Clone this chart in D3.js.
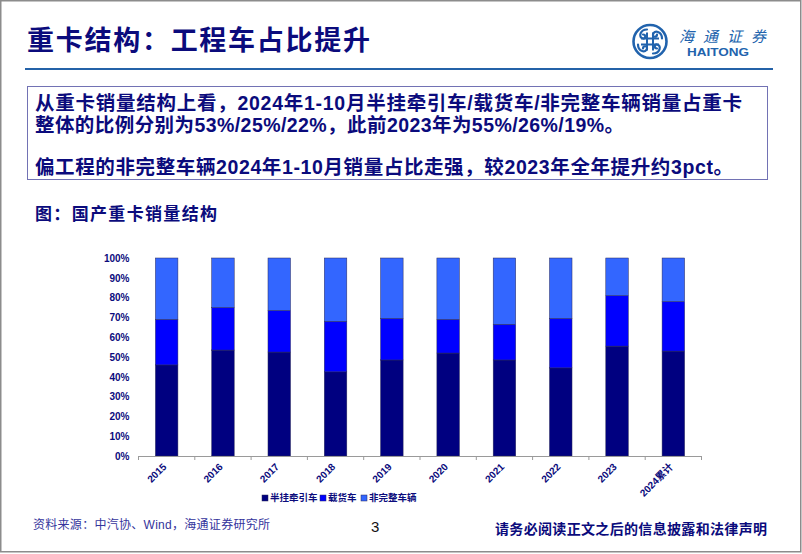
<!DOCTYPE html>
<html>
<head>
<meta charset="utf-8">
<script src="https://cdn.jsdelivr.net/npm/d3@7"></script>
<style>
  body { margin: 0; background: #fff; }
  svg { display: block; }
</style>
</head>
<body>
<div id="chart"></div>
<script>
// categories and shares (%)
const years = ['2015', '2016', '2017', '2018', '2019', '2020', '2021', '2022', '2023', '2024累计'];
const tractor = [46, 53.5, 52.5, 42.5, 48.5, 52, 48.5, 44.5, 55.5, 53];
const truck = [23, 21.5, 21, 25.5, 21, 17, 18, 25, 25.5, 25];
const incomplete = [31, 25, 26.5, 32, 30.5, 31, 33.5, 30.5, 19, 22];
const seriesNames = ['半挂牵引车', '载货车', '非完整车辆'];
const yTicks = [0, 10, 20, 30, 40, 50, 60, 70, 80, 90, 100];

const width = 802,
  height = 554,
  navy = '#0b0b7c',
  colors = ['#000080', '#0000ff', '#3366ff'],
  cjk = "'Liberation Sans', Arial, 'Noto Sans CJK SC', sans-serif",
  narrow = "'Liberation Sans Narrow', 'Arial Narrow', 'Liberation Sans', 'Noto Sans CJK SC', sans-serif",
  plot = { left: 138.5, right: 701.5, top: 258, bottom: 456 };

const svg = d3.select('#chart')
  .append('svg')
  .attr('width', width)
  .attr('height', height);

// page frame
svg.append('rect')
  .attr('x', 0.75).attr('y', 0.75)
  .attr('width', 800).attr('height', 551)
  .attr('fill', 'none')
  .attr('stroke', '#8c8c8c')
  .attr('stroke-width', 1.5);

// header
svg.append('text')
  .attr('x', 27).attr('y', 50)
  .attr('font-family', "'Noto Sans CJK SC', sans-serif")
  .attr('font-weight', 700)
  .attr('font-size', 27)
  .attr('fill', navy)
  .attr('textLength', 343)
  .attr('lengthAdjust', 'spacing')
  .text('重卡结构：工程车占比提升');

svg.append('line')
  .attr('x1', 25).attr('x2', 773)
  .attr('y1', 69).attr('y2', 69)
  .attr('stroke', '#2462a8')
  .attr('stroke-width', 2);

// logo
const logo = svg.append('g').attr('transform', 'translate(650,41.5)');
const logoBlue = '#2163ad';
logo.append('circle').attr('r', 16.5)
  .attr('fill', 'none').attr('stroke', logoBlue).attr('stroke-width', 2.6);
[0, 90, 180, 270].forEach(a => {
  logo.append('path')
    .attr('transform', `rotate(${a})`)
    .attr('d', 'M-3,-12 C-10,-12 -12,-4 -7,-3 C-4,-2.5 -4,-7 -7,-7')
    .attr('fill', 'none').attr('stroke', logoBlue).attr('stroke-width', 2.2)
    .attr('stroke-linecap', 'round');
});
logo.append('path')
  .attr('d', 'M-3,-9 V9 M3,-9 V9 M-9,-3 H9 M-9,3 H9')
  .attr('stroke', logoBlue).attr('stroke-width', 2);
svg.append('text')
  .attr('x', 679).attr('y', 42)
  .attr('font-family', "'Noto Sans CJK SC', sans-serif")
  .attr('font-size', 15)
  .attr('font-style', 'italic')
  .attr('fill', logoBlue)
  .attr('textLength', 87)
  .attr('lengthAdjust', 'spacing')
  .text('海通证券');
svg.append('text')
  .attr('x', 687).attr('y', 56)
  .attr('font-family', "'Liberation Sans', Arial, sans-serif")
  .attr('font-weight', 700)
  .attr('font-size', 10.5)
  .attr('fill', logoBlue)
  .attr('textLength', 62)
  .attr('lengthAdjust', 'spacingAndGlyphs')
  .text('HAITONG');

// summary box
svg.append('rect')
  .attr('x', 27.5).attr('y', 86.5)
  .attr('width', 740).attr('height', 93)
  .attr('fill', '#fff')
  .attr('stroke', '#7272b4')
  .attr('stroke-width', 1);

const boxLines = [
  { text: '从重卡销量结构上看，2024年1-10月半挂牵引车/载货车/非完整车辆销量占重卡', y: 110, len: 707 },
  { text: '整体的比例分别为53%/25%/22%，此前2023年为55%/26%/19%。', y: 132, len: 589 },
  { text: '偏工程的非完整车辆2024年1-10月销量占比走强，较2023年全年提升约3pct。', y: 174, len: 698 }
];
svg.selectAll('text.box-line')
  .data(boxLines)
  .enter().append('text')
  .attr('class', 'box-line')
  .attr('x', 35)
  .attr('y', d => d.y)
  .attr('font-family', narrow)
  .attr('font-weight', 700)
  .attr('font-size', 19.5)
  .attr('fill', navy)
  .attr('textLength', d => d.len)
  .attr('lengthAdjust', 'spacing')
  .text(d => d.text);

svg.append('text')
  .attr('x', 35).attr('y', 220)
  .attr('font-family', "'Noto Sans CJK SC', sans-serif")
  .attr('font-weight', 700)
  .attr('font-size', 17)
  .attr('fill', navy)
  .attr('textLength', 182)
  .attr('lengthAdjust', 'spacing')
  .text('图：国产重卡销量结构');

// chart
const rows = years.map((y, i) => ({ year: y, s0: tractor[i], s1: truck[i], s2: incomplete[i] }));
const stacked = d3.stack().keys(['s0', 's1', 's2'])(rows);

const x = d3.scaleBand()
  .domain(years)
  .range([plot.left, plot.right])
  .paddingInner(0.6)
  .paddingOuter(0.3);

const y = d3.scaleLinear()
  .domain([0, 100])
  .range([plot.bottom, plot.top]);

const chart = svg.append('g').attr('class', 'chart');

chart.selectAll('g.series')
  .data(stacked)
  .enter().append('g')
  .attr('class', 'series')
  .attr('fill', (d, i) => colors[i])
  .selectAll('rect')
  .data(d => d)
  .enter().append('rect')
  .attr('x', d => x(d.data.year))
  .attr('y', d => y(d[1]))
  .attr('width', x.bandwidth())
  .attr('height', d => y(d[0]) - y(d[1]))
  .attr('stroke', '#2a2a5a')
  .attr('stroke-width', 0.5);

// y axis: labels only
const yAxis = chart.append('g')
  .attr('transform', `translate(${plot.left},0)`)
  .call(d3.axisLeft(y).tickValues(yTicks).tickFormat(d => d + '%').tickSize(0).tickPadding(9));
yAxis.select('.domain').remove();
yAxis.selectAll('text')
  .attr('font-family', "'Liberation Sans', Arial, sans-serif")
  .attr('font-weight', 700)
  .attr('font-size', 10)
  .attr('fill', navy);

// x axis line with ticks at band boundaries
chart.append('line')
  .attr('x1', plot.left).attr('x2', plot.right)
  .attr('y1', plot.bottom + 0.5).attr('y2', plot.bottom + 0.5)
  .attr('stroke', '#9a9a9a');
chart.selectAll('line.xtick')
  .data(d3.range(years.length + 1))
  .enter().append('line')
  .attr('class', 'xtick')
  .attr('x1', i => plot.left + i * x.step())
  .attr('x2', i => plot.left + i * x.step())
  .attr('y1', plot.bottom).attr('y2', plot.bottom + 4)
  .attr('stroke', '#9a9a9a');

chart.selectAll('text.xlabel')
  .data(years)
  .enter().append('text')
  .attr('class', 'xlabel')
  .attr('transform', d => `translate(${x(d) + x.bandwidth() / 2 - 2},${plot.bottom + 9}) rotate(-45)`)
  .attr('text-anchor', 'end')
  .attr('dy', '0.35em')
  .attr('font-family', cjk)
  .attr('font-weight', 700)
  .attr('font-size', 10)
  .attr('fill', navy)
  .text(d => d);

// legend
const legendX = [262, 320, 361];
const legend = chart.selectAll('g.legend')
  .data(seriesNames)
  .enter().append('g')
  .attr('class', 'legend')
  .attr('transform', (d, i) => `translate(${legendX[i]},498)`);
legend.append('rect')
  .attr('x', 0).attr('y', -3)
  .attr('width', 6).attr('height', 6)
  .attr('fill', (d, i) => colors[i])
  .attr('stroke', '#2a2a5a')
  .attr('stroke-width', 0.5);
legend.append('text')
  .attr('x', 8).attr('dy', '0.35em')
  .attr('font-family', "'Noto Sans CJK SC', sans-serif")
  .attr('font-weight', 700)
  .attr('font-size', 9.5)
  .attr('fill', navy)
  .text(d => d);

// footer
svg.append('text')
  .attr('x', 33).attr('y', 529)
  .attr('font-family', cjk)
  .attr('font-size', 12)
  .attr('fill', '#34349c')
  .attr('textLength', 237)
  .attr('lengthAdjust', 'spacing')
  .text('资料来源：中汽协、Wind，海通证券研究所');
svg.append('text')
  .attr('x', 371).attr('y', 532)
  .attr('font-family', "'Liberation Sans', Arial, sans-serif")
  .attr('font-size', 15)
  .attr('fill', '#111')
  .text('3');
svg.append('text')
  .attr('x', 495).attr('y', 534)
  .attr('font-family', "'Noto Sans CJK SC', sans-serif")
  .attr('font-weight', 700)
  .attr('font-size', 14)
  .attr('fill', navy)
  .attr('textLength', 272)
  .attr('lengthAdjust', 'spacing')
  .text('请务必阅读正文之后的信息披露和法律声明');
</script>
</body>
</html>
